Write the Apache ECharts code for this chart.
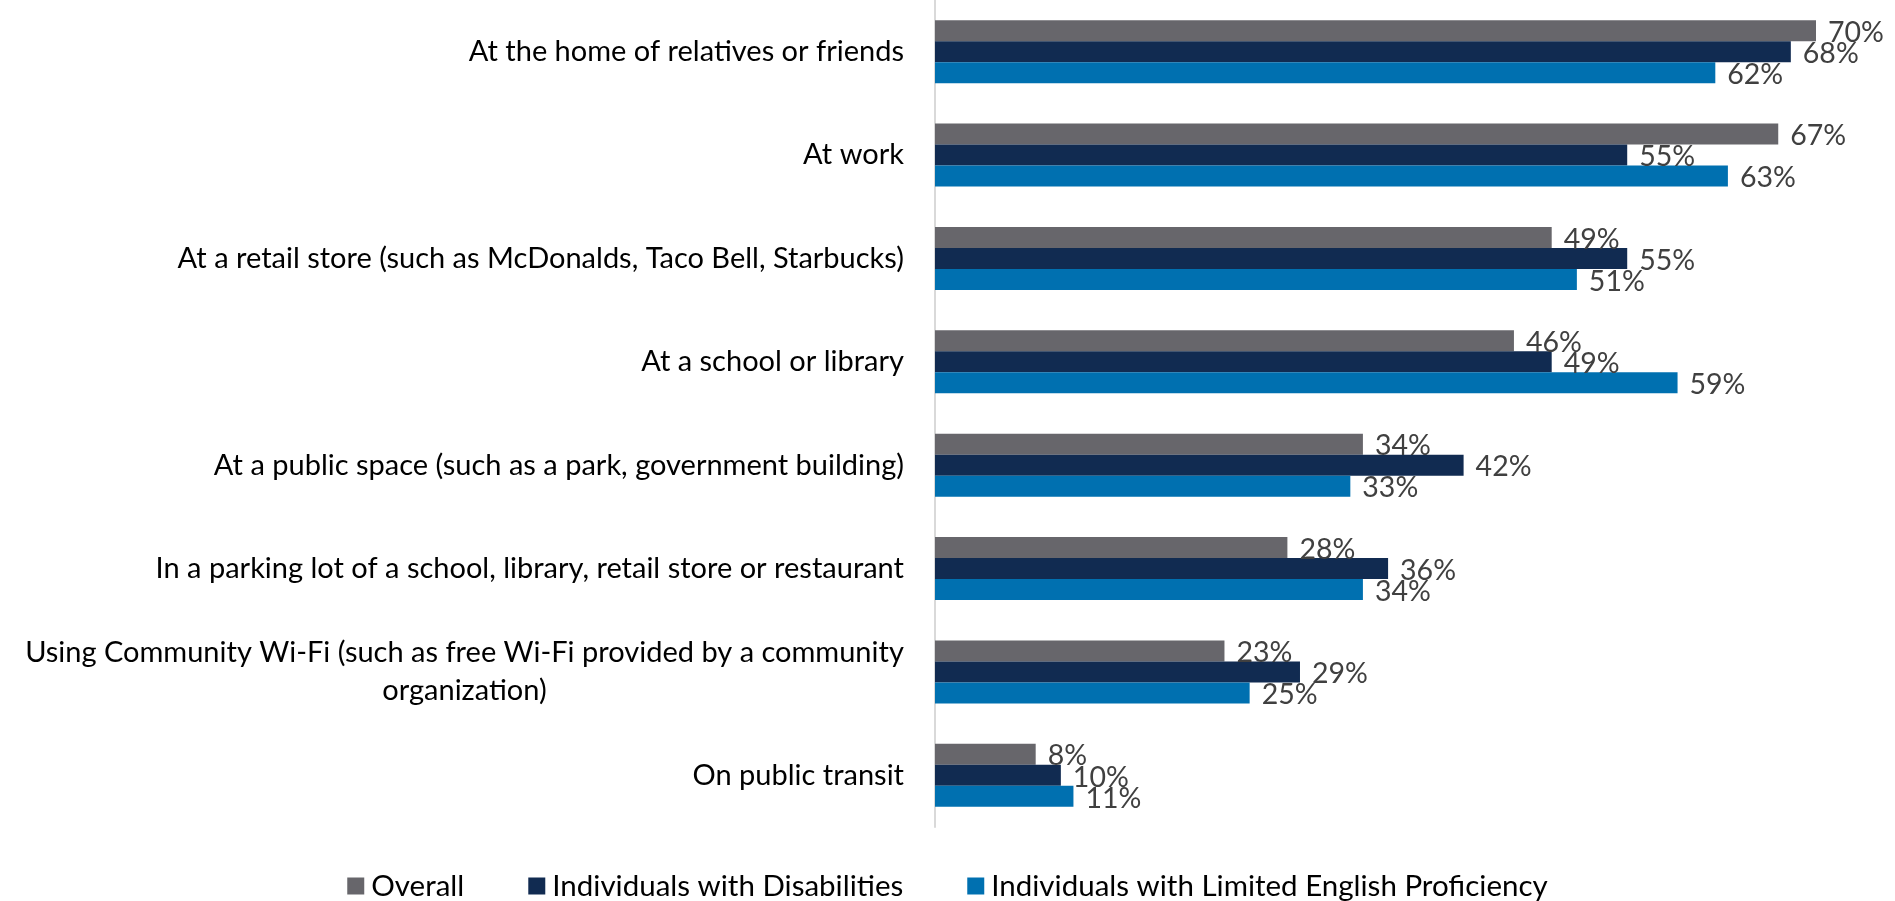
<!DOCTYPE html>
<html>
<head>
<meta charset="utf-8">
<script src="https://cdn.jsdelivr.net/npm/echarts@6/dist/echarts.min.js"></script>
<style>
html,body{margin:0;padding:0;background:#fff;}
#chart{width:1895px;height:901px;}
</style>
</head>
<body>
<div id="chart"></div>
<script>
var categories = [
  "At the home of relatives or friends",
  "At work",
  "At a retail store (such as McDonalds, Taco Bell, Starbucks)",
  "At a school or library",
  "At a public space (such as a park, government building)",
  "In a parking lot of a school, library, retail store or restaurant",
  "Using Community Wi-Fi (such as free Wi-Fi provided by a community\norganization)",
  "On public transit"
];
var seriesNames = ["Overall", "Individuals with Disabilities", "Individuals with Limited English Proficiency"];
var overall      = [70, 67, 49, 46, 34, 28, 23, 8];
var disabilities = [68, 55, 55, 49, 42, 36, 29, 10];
var lep          = [62, 63, 51, 59, 33, 34, 25, 11];
var colors = ["#67666B", "#112B51", "#0070B0"];

var FONT = "Lato";
var FS = 29;
var LFS = 28.5;
var ctx = document.createElement('canvas').getContext('2d');
ctx.font = FS + 'px ' + FONT;
function w(t){ return Math.ceil(ctx.measureText(t).width); }

var rich = {};
categories.forEach(function(c, i){
  var lines = c.split('\n');
  if (lines.length > 1) {
    var mw = Math.max.apply(null, lines.map(w));
    rich['c' + i] = {width: mw, align: 'center', fontFamily: FONT, fontSize: FS, color: '#000', lineHeight: 38};
  }
});

var chart = echarts.init(document.getElementById('chart'));
var datasets = [overall, disabilities, lep];
var option = {
  animation: false,
  textStyle: {fontFamily: FONT},
  grid: {left: 935, right: 79, top: -2, height: 829, containLabel: false},
  legend: {
    top: 866, left: 'center',
    itemWidth: 17, itemHeight: 17, itemGap: 64,
    icon: 'rect',
    textStyle: {fontFamily: FONT, fontSize: 29.5, color: '#000', padding: [0,0,0,2]},
    data: seriesNames
  },
  xAxis: {
    type: 'value', min: 0, max: 70,
    show: false
  },
  yAxis: {
    type: 'category', inverse: true, data: categories,
    axisLine: {show: true, lineStyle: {color: '#D9D9D9', width: 2}},
    axisTick: {show: false},
    axisLabel: {
      margin: 31, fontFamily: FONT, fontSize: FS, color: '#000', lineHeight: 38,
      rich: rich,
      formatter: function(v, i){
        var lines = v.split('\n');
        if (lines.length > 1) {
          return lines.map(function(l){ return '{c' + i + '|' + l + '}'; }).join('\n');
        }
        return v;
      }
    }
  },
  series: datasets.map(function(d, k){
    return {
      name: seriesNames[k], type: 'bar', data: d,
      barGap: '0%', barCategoryGap: '39%',
      itemStyle: {color: colors[k]},
      label: {
        show: true, position: 'right', distance: 12, offset: [0, 2],
        formatter: '{c}%', fontFamily: FONT, fontSize: LFS, color: '#404040'
      }
    };
  })
};
chart.setOption(option);
</script>
</body>
</html>
